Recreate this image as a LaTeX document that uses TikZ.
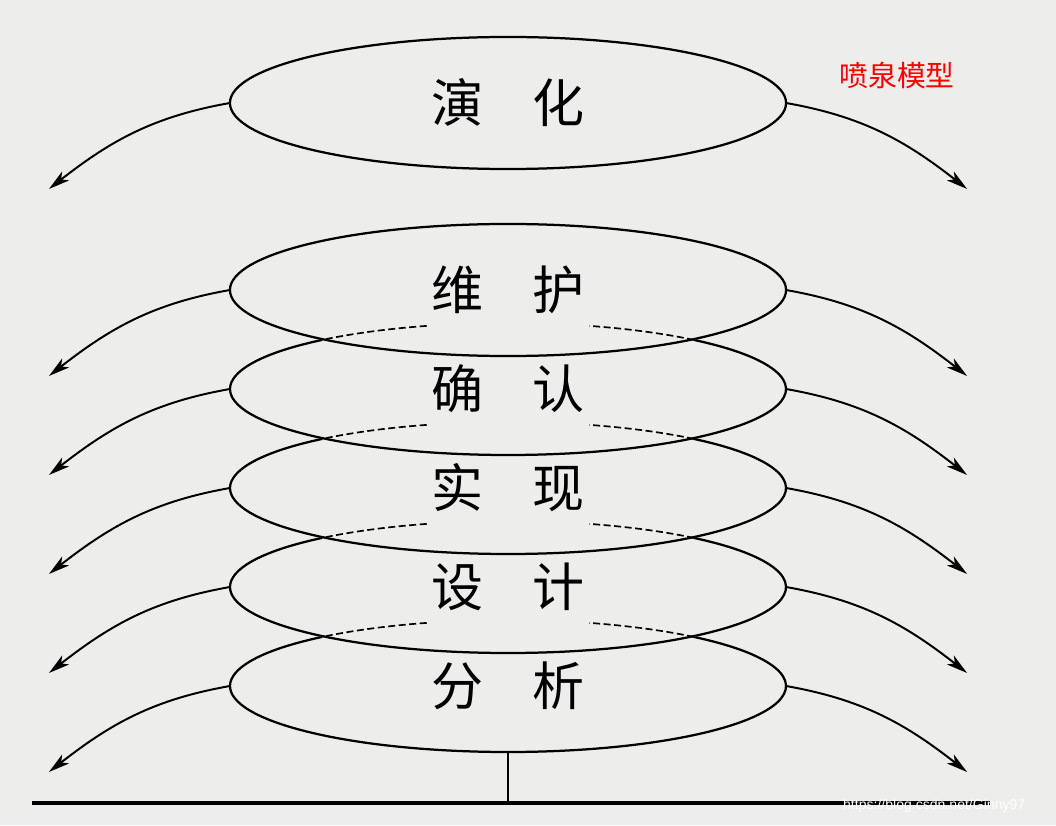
\documentclass[tikz,border=0pt]{standalone}
\usepackage{fontspec}
\usepackage{tikz}
\usetikzlibrary{arrows.meta, shapes.geometric}
\newfontfamily\cjk{Noto Sans CJK SC}
\newfontfamily\urlfont{Liberation Sans}
\definecolor{paper}{RGB}{237,237,235}

\begin{document}
\begin{tikzpicture}[x=0.025cm, y=0.025cm, >={Stealth[length=15pt,width=8pt,inset=4pt]}, line width=1.6pt,
  stage/.style={ellipse, minimum width=13.9cm, minimum height=3.3cm, inner sep=0pt, outer sep=0pt,
    font=\cjk\fontsize{37}{40}\selectfont},
  hidden/.style={line width=1.2pt, dash pattern=on 5pt off 2.5pt},
  flow/.style={->, line width=1.4pt}]
  % Background
  \fill[paper] (0,0) rectangle (1056,825);
  \useasboundingbox (0,0) rectangle (1056,825);

  % Stages
  \node[stage, draw] (yanhua) at (508,722) {\raisebox{-3pt}{演\hspace{0.95em}化}};
  \node[stage, draw] (weihu) at (508,535) {\raisebox{-3pt}{维\hspace{0.95em}护}};
  \node[stage] (queren) at (508,436) {\raisebox{-5pt}{确\hspace{0.95em}认}};
  \node[stage] (shixian) at (508,337) {\raisebox{-5pt}{实\hspace{0.95em}现}};
  \node[stage] (sheji) at (508,238) {\raisebox{-5pt}{设\hspace{0.95em}计}};
  \node[stage] (fenxi) at (508,139) {\raisebox{-4pt}{分\hspace{0.95em}析}};

  % Overlapped outlines, top part hidden behind the stage above
  \foreach \s in {queren, shixian, sheji, fenxi} {
    \draw (\s.center) ++(132:278 and 66) arc[start angle=132, end angle=408, x radius=278, y radius=66];
    \draw[hidden] (\s.center) ++(48:278 and 66) arc[start angle=48, end angle=73, x radius=278, y radius=66];
    \draw[hidden] (\s.center) ++(107:278 and 66) arc[start angle=107, end angle=132, x radius=278, y radius=66];
  }

  % Fountain arrows
  \foreach \s in {yanhua, weihu, queren, shixian, sheji, fenxi} {
    \draw[flow] (\s.west) to[out=190, in=38] ++(-181,-86);
    \draw[flow] (\s.east) to[out=-10, in=142] ++(181,-86);
  }

  % Ground
  \coordinate (groundl) at (32,22);
  \coordinate (groundr) at (990,22);
  \draw[line width=2.2pt] (groundl) -- (groundr);
  \draw[line width=1.6pt] (fenxi.south) -- (fenxi.south |- groundl);

  % Title and mark
  \node[text=red, font=\cjk\fontsize{20.5}{24}\selectfont] (title) at (897,750) {喷泉模型};
  \node[text=white, font=\urlfont\fontsize{10}{12}\selectfont, anchor=west, inner sep=0pt] (mark) at (842,19) {https://blog.csdn.net/Ginny97};
\end{tikzpicture}
\end{document}
